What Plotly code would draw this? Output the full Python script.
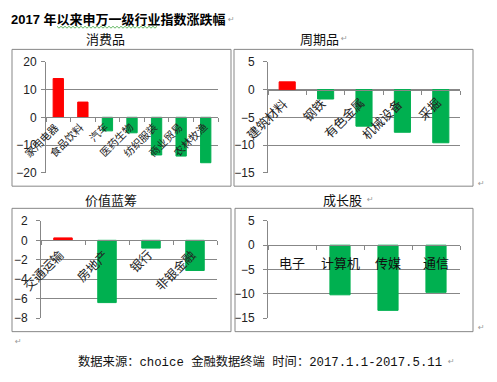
import plotly.graph_objects as go

W, H = 497, 382

# ---- data ----
cons_cats = ["家用电器", "食品饮料", "汽车", "医药生物", "纺织服装", "商业贸易", "农林牧渔"]
cons_vals = [14.0, 5.5, -4.9, -5.6, -13.6, -14.0, -16.4]
cyc_cats = ["建筑材料", "钢铁", "有色金属", "机械设备", "采掘"]
cyc_vals = [1.4, -1.7, -6.6, -7.7, -9.6]
blue_cats = ["交通运输", "房地产", "银行", "非银金融"]
blue_vals = [0.25, -6.4, -0.8, -3.1]
grow_cats = ["电子", "计算机", "传媒", "通信"]
grow_vals = [0.0, -10.2, -13.4, -9.7]

panel_titles = ["消费品", "周期品", "价值蓝筹", "成长股"]
main_title = "2017 年以来申万一级行业指数涨跌幅"
footer = "数据来源：choice 金融数据终端 时间：2017.1.1-2017.5.11"

RED = "#FF0000"
GREEN = "#00B050"
GRAY = "#878787"
CJK = "Noto Sans CJK SC"
NUM = "Liberation Sans, Noto Sans CJK SC"


def px(x):
    return x / W


def py(y):
    return 1 - y / H


panels = [
    dict(cats=cons_cats, vals=cons_vals, rng=[-20, 20], dt=10, xd=(46, 218), yd=(57, 172),
         rot=True, lfs=10.5, xs=7, ys=1),
    dict(cats=cyc_cats, vals=cyc_vals, rng=[-15, 5], dt=5, xd=(268, 460), yd=(57, 172),
         rot=True, lfs=12.5, xs=7, ys=-1),
    dict(cats=blue_cats, vals=blue_vals, rng=[-8, 2], dt=2, xd=(41, 217), yd=(222, 323),
         rot=True, lfs=12.5, xs=8, ys=-2),
    dict(cats=grow_cats, vals=grow_vals, rng=[-15, 5], dt=5, xd=(268, 460), yd=(222, 323),
         rot=False, lfs=13, xs=0, ys=-6),
]

fig = go.Figure()
annotations = []
shapes = []
layout = dict(width=W, height=H, margin=dict(l=0, r=0, t=0, b=0), autosize=False,
              paper_bgcolor="white", plot_bgcolor="white", showlegend=False,
              bargap=0.6, font=dict(family=NUM, color="#222"))

for i, p in enumerate(panels):
    k = "" if i == 0 else str(i + 1)
    xa, ya = "x" + k, "y" + k
    colors = [RED if v > 0 else GREEN for v in p["vals"]]
    lw = [1 if v != 0 else 0 for v in p["vals"]]
    fig.add_trace(go.Bar(x=p["cats"], y=p["vals"], xaxis=xa, yaxis=ya,
                         marker=dict(color=colors, line=dict(color=colors, width=lw)),
                         width=0.42))
    ydom = [py(p["yd"][1]), py(p["yd"][0])]
    lo, hi = p["rng"]
    zero_pos = ydom[0] + (0 - lo) / (hi - lo) * (ydom[1] - ydom[0])
    layout["xaxis" + k] = dict(
        domain=[px(p["xd"][0]), px(p["xd"][1])], type="category",
        range=[-0.5, len(p["cats"]) - 0.5], anchor="free", position=zero_pos,
        showline=True, linecolor=GRAY, linewidth=1, ticks="outside", tickson="boundaries",
        ticklen=4, tickcolor=GRAY, showticklabels=False, showgrid=False, zeroline=False,
        fixedrange=True)
    layout["yaxis" + k] = dict(
        domain=ydom, anchor=xa, range=[lo, hi], dtick=p["dt"], tick0=0,
        showline=True, linecolor=GRAY, linewidth=1, ticks="outside", ticklen=4,
        tickcolor=GRAY, showgrid=True, gridcolor=GRAY, gridwidth=1, zeroline=False,
        tickfont=dict(size=12, family=NUM, color="#222"), ticklabelstandoff=2 if i == 0 else 6,
        fixedrange=True)
    for c in p["cats"]:
        if p["rot"]:
            annotations.append(dict(x=c, y=0, xref=xa, yref=ya, text=c, showarrow=False,
                                    textangle=-45, xanchor="right", yanchor="top",
                                    xshift=p["xs"], yshift=p["ys"],
                                    font=dict(family=CJK, size=p["lfs"], color="#222")))
        else:
            annotations.append(dict(x=c, y=0, xref=xa, yref=ya, text=c, showarrow=False,
                                    xanchor="center", yanchor="top", yshift=p["ys"],
                                    font=dict(family=CJK, size=p["lfs"], color="#111")))

# panel boxes
boxes = [(12, 44, 231, 186), (234, 44, 473, 186), (12, 209, 231, 337), (235, 209, 473, 337)]
for (x0, y0, x1, y1) in boxes:
    shapes.append(dict(type="rect", xref="paper", yref="paper", x0=px(x0), x1=px(x1),
                       y0=py(y1), y1=py(y0), line=dict(color=GRAY, width=1)))

# panel titles
title_pos = [(105, 33), (319, 33), (111, 200), (342, 200)]
for t, (tx, ty) in zip(panel_titles, title_pos):
    annotations.append(dict(x=px(tx), y=py(ty), xref="paper", yref="paper", text=t,
                            showarrow=False, xanchor="center", yanchor="middle",
                            font=dict(family=CJK, size=13, color="#111")))

# main title
annotations.append(dict(x=px(9), y=py(13), xref="paper", yref="paper",
                        text="<b>" + main_title + "</b>", showarrow=False,
                        xanchor="left", yanchor="middle",
                        font=dict(family="Liberation Sans, " + CJK, size=13, color="#000")))

# footer
annotations.append(dict(x=px(260), y=py(368), xref="paper", yref="paper", text=footer,
                        showarrow=False, xanchor="center", yanchor="middle",
                        font=dict(family="Liberation Mono, " + CJK, size=12.3, color="#111")))

# paragraph marks
marks = [(226, 13), (339, 33), (365, 200), (476, 183), (476, 333), (13, 347), (446, 368)]
for (mx, my) in marks:
    annotations.append(dict(x=px(mx), y=py(my), xref="paper", yref="paper", text="↵",
                            showarrow=False, xanchor="left", yanchor="middle",
                            font=dict(family="DejaVu Sans", size=8, color="#9a9a9a")))

# spell-check squiggle under title
pts = []
xx = 57
up = True
while xx <= 157:
    pts.append((xx, 20 if up else 22))
    up = not up
    xx += 2
path = "M " + " L ".join(f"{px(a):.5f},{py(b):.5f}" for a, b in pts)
shapes.append(dict(type="path", xref="paper", yref="paper", path=path,
                   line=dict(color="#3aa53a", width=0.8)))

layout["annotations"] = annotations
layout["shapes"] = shapes
fig.update_layout(**layout)
fig.write_html("out.html", config={"displayModeBar": False},
               post_script="document.body.style.margin='0';document.body.style.padding='0';")
